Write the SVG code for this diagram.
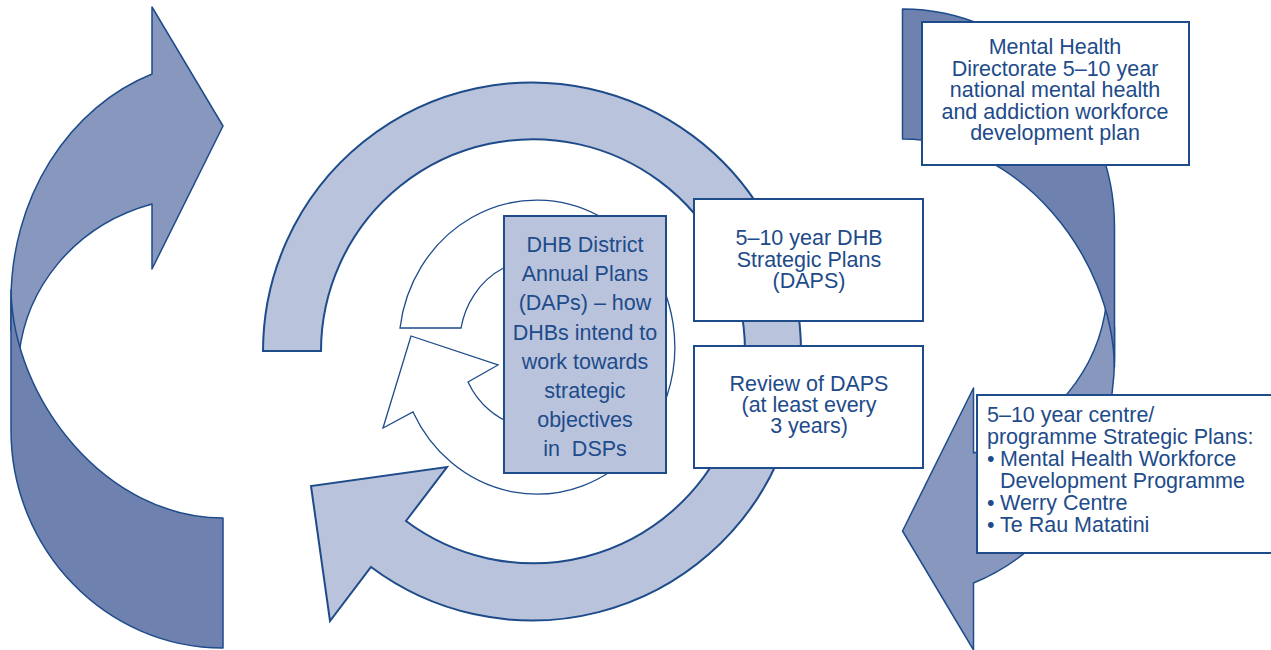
<svg xmlns="http://www.w3.org/2000/svg" xmlns:xlink="http://www.w3.org/1999/xlink" width="1271" height="650" viewBox="0 0 1271 650">
<style>
.t{font-family:"Liberation Sans",Arial,Helvetica,sans-serif;font-size:21.5px;fill:#1E4B8A}
.c{text-anchor:middle}
.box{fill:#ffffff;stroke:#1E4B8A;stroke-width:2}
.boxb{fill:#B9C3DC;stroke:#1E4B8A;stroke-width:2}
.light{fill:#8797BE;stroke:#1E4B8A;stroke-width:1.5;stroke-linejoin:round}
.dark{fill:#6E81AF;stroke:#1E4B8A;stroke-width:1.5;stroke-linejoin:round}
.ring{fill:#B9C3DC;stroke:#1E4B8A;stroke-width:2;stroke-linejoin:miter}
.wring{fill:#ffffff;stroke:#1E4B8A;stroke-width:1.3}
</style>
<defs>
<g id="curved">
<path class="light" d="M152,7 L223,126 L152,269 L152,204 C72,226 26,290 19,355 L11,330 L11,300 A212,240 0 0 1 152,74 Z"/>
<path class="dark" d="M11,290 L11,430 C11,550 106,648 223,648 L223,518 C106,518 13,400 11,290 Z"/>
</g>
</defs>
<g id="left-arrow">
<use xlink:href="#curved" href="#curved"/>
</g>
<g id="right-arrow">
<use xlink:href="#curved" href="#curved" transform="rotate(180 562.75 328.5)"/>
</g>
<g id="connectors">
<path id="cycle-outer" class="ring" d="M263,351 A269,269 0 1 1 371,567 L330,621 L311,486 L447,467 L406,521 A212,212 0 1 0 321,351 Z"/>
<path id="cycle-inner" class="wring" d="M400,328 A138,147 0 1 1 413,412 L383,428 L411,336 L498,365 L468,382 A77,84 0 1 0 461,328 Z"/>
</g>
<g id="dhb-annual">
<rect class="boxb" x="504" y="216" width="162" height="257"/>
<text class="t c" x="585" y="252">DHB District</text>
<text class="t c" x="585" y="281">Annual Plans</text>
<text class="t c" x="585" y="310">(DAPs) – how</text>
<text class="t c" x="585" y="339.5">DHBs intend to</text>
<text class="t c" x="585" y="368.5">work towards</text>
<text class="t c" x="585" y="398">strategic</text>
<text class="t c" x="585" y="427">objectives</text>
<text class="t c" x="585" y="456" style="white-space:pre">in  DSPs</text>
</g>
<g id="dhb-strategic">
<rect class="box" x="694" y="199" width="229" height="122"/>
<text class="t c" x="809" y="245">5–10 year DHB</text>
<text class="t c" x="809" y="266.5">Strategic Plans</text>
<text class="t c" x="809" y="288">(DAPS)</text>
</g>
<g id="review">
<rect class="box" x="694" y="346" width="229" height="122"/>
<text class="t c" x="809" y="391">Review of DAPS</text>
<text class="t c" x="809" y="412">(at least every</text>
<text class="t c" x="809" y="433">3 years)</text>
</g>
<g id="directorate">
<rect class="box" x="922" y="22" width="267" height="143"/>
<text class="t c" x="1055" y="54">Mental Health</text>
<text class="t c" x="1055" y="75.5">Directorate 5–10 year</text>
<text class="t c" x="1055" y="97">national mental health</text>
<text class="t c" x="1055" y="118.5">and addiction workforce</text>
<text class="t c" x="1055" y="140">development plan</text>
</g>
<g id="centre-plans">
<rect class="box" x="977" y="395" width="300" height="158"/>
<text class="t" x="987" y="422">5–10 year centre/</text>
<text class="t" x="987" y="444">programme Strategic Plans:</text>
<text class="t" x="987" y="466">•</text>
<text class="t" x="1000" y="466">Mental Health Workforce</text>
<text class="t" x="1000" y="488">Development Programme</text>
<text class="t" x="987" y="510">•</text>
<text class="t" x="1000" y="510">Werry Centre</text>
<text class="t" x="987" y="532">•</text>
<text class="t" x="1000" y="532">Te Rau Matatini</text>
</g>
</svg>
